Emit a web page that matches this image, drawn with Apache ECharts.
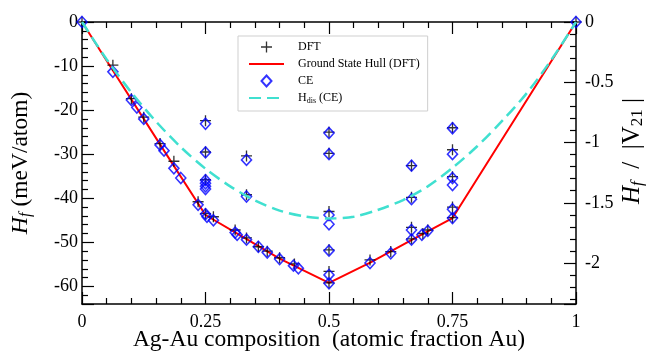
<!DOCTYPE html>
<html><head><meta charset="utf-8">
<script src="https://cdn.jsdelivr.net/npm/echarts@6/dist/echarts.min.js"></script>
<style>html,body{margin:0;padding:0;background:#fff}#c{width:650px;height:353px}</style>
</head><body><div id="c"></div>
<script>
// ---- data ----
const dftPoints = [
  [0,0],[0.0625,-9.8],[0.1,-17.4],[0.125,-21.6],[0.158,-27.6],[0.186,-31.6],[0.235,-40.8],
  [0.25,-22.4],[0.25,-29.5],[0.25,-35.8],[0.25,-43.5],[0.266,-44.2],[0.31,-47.2],
  [0.333,-30.4],[0.333,-39.2],[0.333,-49.0],[0.357,-51.0],[0.375,-52.0],[0.4,-53.5],[0.43,-54.9],
  [0.5,-25.0],[0.5,-29.8],[0.5,-43.0],[0.5,-51.7],[0.5,-56.6],[0.5,-59.2],
  [0.583,-54.0],[0.625,-52.1],[0.667,-32.6],[0.667,-39.8],[0.667,-46.6],[0.667,-49.2],
  [0.69,-48.0],[0.70,-47.2],[0.75,-24.0],[0.75,-29.0],[0.75,-35.1],[0.75,-42.0],[0.75,-44.4],[1,0]
];
const hullPoints = [
  [0,0],[0.0625,-11.0],[0.1667,-29.3],[0.25,-43.8],[0.3333,-49.3],[0.4,-53.7],[0.4286,-55.3],
  [0.5,-59.2],[0.5833,-54.6],[0.6667,-49.5],[0.75,-44.5],[1,0]
];
const cePoints = [
  [0,0],[0.0625,-11.3],[0.1,-17.7],[0.111,-19.4],[0.125,-22.0],[0.158,-27.9],[0.166,-29.2],
  [0.186,-33.2],[0.2,-35.4],[0.235,-41.5],
  [0.25,-23.1],[0.25,-29.6],[0.25,-35.9],[0.25,-36.6],[0.25,-37.3],[0.25,-37.9],[0.25,-43.6],[0.253,-44.2],
  [0.266,-45.0],[0.31,-47.8],[0.314,-48.3],[0.333,-49.4],[0.333,-31.3],[0.333,-39.6],
  [0.357,-51.0],[0.375,-52.3],[0.4,-53.8],[0.428,-55.3],[0.438,-55.9],
  [0.5,-25.2],[0.5,-30.0],[0.5,-43.8],[0.5,-45.9],[0.5,-51.9],[0.5,-57.4],[0.5,-59.3],
  [0.583,-54.7],[0.625,-52.5],[0.667,-32.6],[0.667,-40.2],[0.667,-47.2],[0.667,-49.4],
  [0.688,-48.3],[0.70,-47.4],
  [0.75,-24.1],[0.75,-30.0],[0.75,-35.4],[0.75,-37.0],[0.75,-42.5],[0.75,-44.5],[1,0]
];
const hdisX = [0,0.05,0.1,0.15,0.2,0.25,0.3,0.35,0.4,0.45,0.5,0.55,0.6,0.65,0.7,0.75,0.8,0.85,0.9,0.95,1];
const hdisY = [0,-8.5,-16.0,-22.6,-28.4,-33.3,-37.3,-40.5,-42.8,-44.1,-44.6,-44.2,-42.6,-40.4,-37.3,-33.1,-28.2,-22.5,-16.2,-8.6,0];
const seriesNames = ['DFT','Ground State Hull (DFT)','CE','Hdis (CE)'];
const xTickLabels = ['0','0.25','0.5','0.75','1'];
const leftTickLabels = ['0','-10','-20','-30','-40','-50','-60'];
const rightTickLabels = ['0','-0.5','-1','-1.5','-2'];

// ---- chart ----
const FONT = 'Liberation Serif';
const chart = echarts.init(document.getElementById('c'), null, {renderer:'canvas'});
const axisLine = {show:true, onZero:false, lineStyle:{color:'#000', width:1.5}};
function ticks(){ return {show:true, inside:true, length:12, lineStyle:{color:'#000', width:1.2}}; }
function minor(){ return {show:true, splitNumber:5, length:6, lineStyle:{color:'#000', width:1.2}}; }
const labelStyle = {color:'#000', fontFamily:FONT, fontSize:18};
const titleStyle = {fontFamily:FONT, fontSize:23.5, color:'#000'};

const option = {
  animation:false,
  backgroundColor:'#fff',
  grid:{left:82, right:74, top:22, bottom:49, containLabel:false, outerBoundsMode:'none'},
  legend:{
    orient:'vertical', left:238, top:36,
    data:seriesNames,
    itemWidth:35, itemHeight:11, itemGap:3,
    padding:[4,8,6,10],
    borderColor:'#cfcfcf', borderWidth:1,
    backgroundColor:'#fff',
    selectedMode:false,
    textStyle:{fontFamily:FONT, fontSize:12, color:'#000', lineHeight:14, padding:[0,0,0,9],
      rich:{t:{fontFamily:FONT,fontSize:12,color:'#000'}, s:{fontFamily:FONT,fontSize:8,color:'#000',padding:[6,0,0,0]}}},
    formatter: n => n === 'Hdis (CE)' ? '{t|H}{s|dis}{t| (CE)}' : n
  },
  xAxis:[
    {type:'value', position:'bottom', min:0, max:1, interval:0.25, axisLine, axisTick:ticks(), minorTick:minor(),
      axisLabel:Object.assign({margin:9, formatter:v => xTickLabels[Math.round(v/0.25)]}, labelStyle), splitLine:{show:false},
      name:'Ag-Au composition  (atomic fraction Au)', nameLocation:'middle', nameGap:24, nameMoveOverlap:false, nameTextStyle:titleStyle},
    {type:'value', position:'top', min:0, max:1, interval:0.25, axisLine, axisTick:ticks(), minorTick:minor(),
      axisLabel:{show:false}, splitLine:{show:false}}
  ],
  yAxis:[
    {type:'value', position:'left', inverse:true, min:0, max:64, interval:10, axisLine, axisTick:ticks(), minorTick:minor(),
      axisLabel:Object.assign({margin:4, showMaxLabel:false, formatter:v => leftTickLabels[Math.round(v/10)] || ''}, labelStyle),
      splitLine:{show:false},
      name:'{i|H}{s|f}{n| (meV/atom)}', nameLocation:'middle', nameGap:48, nameRotate:90, nameMoveOverlap:false,
      nameTextStyle:Object.assign({rich:{i:{fontFamily:FONT,fontStyle:'italic',fontSize:24,color:'#000'},
              s:{fontFamily:FONT,fontStyle:'italic',fontSize:16,color:'#000',padding:[10,0,0,0]},
              n:{fontFamily:FONT,fontSize:23.5,color:'#000'}}}, titleStyle)},
    {type:'value', position:'right', inverse:true, min:0, max:2.34, interval:0.5, axisLine, axisTick:ticks(), minorTick:minor(),
      axisLabel:Object.assign({margin:9, showMaxLabel:false, formatter:v => rightTickLabels[Math.round(v/0.5)] || ''}, labelStyle),
      splitLine:{show:false},
      name:'{i|H}{s|f}{n|  /  |V}{s2|21}{n| |}', nameLocation:'middle', nameGap:43, nameRotate:90, nameMoveOverlap:false,
      nameTextStyle:Object.assign({padding:[0,0,0,24], rich:{i:{fontFamily:FONT,fontStyle:'italic',fontSize:25,color:'#000'},
              s:{fontFamily:FONT,fontStyle:'italic',fontSize:17,color:'#000',padding:[10,0,0,0]},
              s2:{fontFamily:FONT,fontSize:17,color:'#000',padding:[10,0,0,0]},
              n:{fontFamily:FONT,fontSize:25,color:'#000'}}}, titleStyle)},
    {type:'value', show:false, min:-64, max:0}
  ],
  series:[
    {name:seriesNames[0], type:'scatter', xAxisIndex:0, yAxisIndex:2, data:dftPoints, clip:false,
     symbol:'path://M4.4,0H5.6V10H4.4Z M0,4.4H10V5.6H0Z', symbolSize:11,
     itemStyle:{color:'#000'}, z:3},
    {name:seriesNames[1], type:'line', xAxisIndex:0, yAxisIndex:2, data:hullPoints, symbol:'none', clip:false,
     lineStyle:{color:'#ff0000', width:2}, itemStyle:{color:'#ff0000', opacity:0}, z:2},
    {name:seriesNames[2], type:'scatter', xAxisIndex:0, yAxisIndex:2, data:cePoints, clip:false,
     symbol:'path://M5,0L10,5.5L5,11L0,5.5Z', symbolSize:[10,11],
     itemStyle:{color:'rgba(255,255,255,0)', borderColor:'#0000ff', borderWidth:1.6}, z:4},
    {name:seriesNames[3], type:'line', xAxisIndex:0, yAxisIndex:2, data:hdisX.map((x,i)=>[x,hdisY[i]]),
     symbol:'none', smooth:0.3, clip:false,
     lineStyle:{color:'#40e0d0', width:2.5, type:[12,6]}, itemStyle:{color:'#40e0d0', opacity:0}, z:5}
  ]
};
chart.setOption(option);
</script></body></html>
